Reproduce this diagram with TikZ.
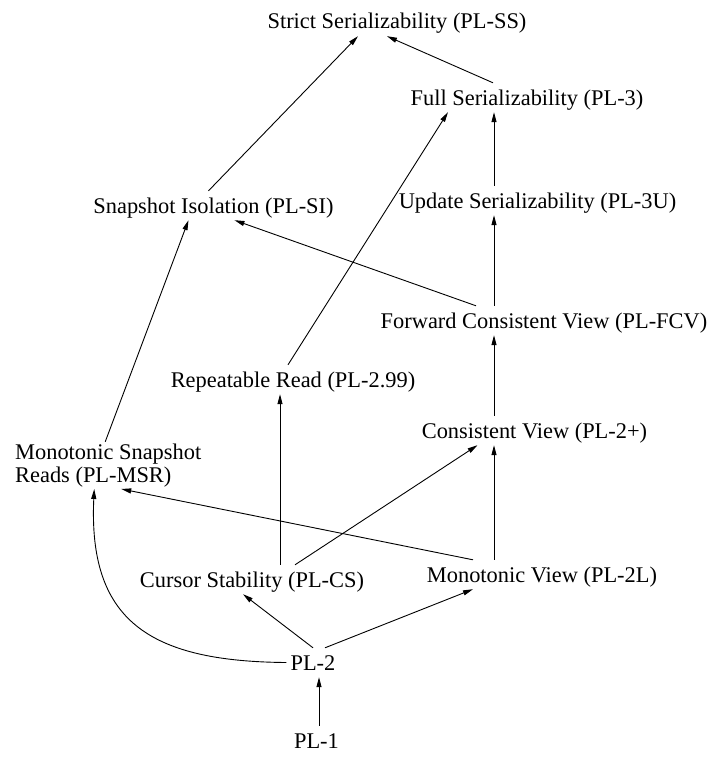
\documentclass[tikz,border=0pt]{standalone}
\usepackage{fontspec}
\setmainfont{Liberation Serif}
\usetikzlibrary{arrows.meta}

\begin{document}
\begin{tikzpicture}[x=1pt,y=-1pt,
    font=\fontsize{22.4}{22.5}\selectfont,
    level/.style={anchor=base,inner xsep=4pt,inner ysep=7pt,text height=15pt,text depth=0pt},
    imp/.style={-{Triangle[length=10pt,width=5pt]},line width=0.9pt}]
    \useasboundingbox (0,0) rectangle (720,760);
    \coordinate (spine) at (494,0);
    \node[level] (ss) at (397,29) {Strict Serializability (PL-SS)};
    \node[level] (pl3) at (527,105) {Full Serializability (PL-3)};
    \node[level] (pl3u) at (537.5,208) {Update Serializability (PL-3U)};
    \node[level] (si) at (213.5,213) {Snapshot Isolation (PL-SI)};
    \node[level] (fcv) at (544,328) {Forward Consistent View (PL-FCV)};
    \node[level] (rr) at (293,387) {Repeatable Read (PL-2.99)};
    \node[level] (cv) at (534.5,438) {Consistent View (PL-2+)};
    \node[anchor=base west,align=left,inner xsep=0pt,inner ysep=2pt] (msr) at (15,482)
      {Monotonic Snapshot\\Reads (PL-MSR)};
    \node[level] (cs) at (252,587) {Cursor Stability (PL-CS)};
    \node[level] (mv) at (542,582) {Monotonic View (PL-2L)};
    \node[level] (pl2) at (313,670) {PL-2};
    \node[level] (pl1) at (316.5,748) {PL-1};

    \draw[imp] ([xshift=2.5pt]pl1.north) -- ([xshift=6pt]pl2.south);
    \draw[imp] (pl2.north) -- ([xshift=-9pt]cs.south);
    \draw[imp] ([xshift=12pt]pl2.north) -- ([xshift=-69pt]mv.south);
    \draw[imp] (pl2.west) .. controls +(-138,-1) and +(-6,131) .. ([xshift=-14pt]msr.south);
    \draw[imp] ([xshift=-69pt]mv.north) -- ([xshift=13pt]msr.south);
    \draw[imp] ([xshift=43pt]cs.north) -- ([xshift=-57pt]cv.south);
    \draw[imp] ([xshift=28pt]cs.north) -- ([xshift=-13pt]rr.south);
    \draw[imp] ([xshift=-3pt]msr.north) -- ([xshift=-25pt]si.south);
    \draw[imp] (mv.north -| spine) -- (cv.south -| spine);
    \draw[imp] (cv.north -| spine) -- (fcv.south -| spine);
    \draw[imp] (fcv.north -| spine) -- (pl3u.south -| spine);
    \draw[imp] (pl3u.north -| spine) -- (pl3.south -| spine);
    \draw[imp] ([xshift=-68pt]fcv.north) -- ([xshift=21pt]si.south);
    \draw[imp] ([xshift=-5pt]rr.north) -- ([xshift=-79pt]pl3.south);
    \draw[imp] ([xshift=-34pt]pl3.north) -- ([xshift=-10pt]ss.south);
    \draw[imp] ([xshift=-5pt]si.north) -- ([xshift=-39pt]ss.south);
\end{tikzpicture}
\end{document}
